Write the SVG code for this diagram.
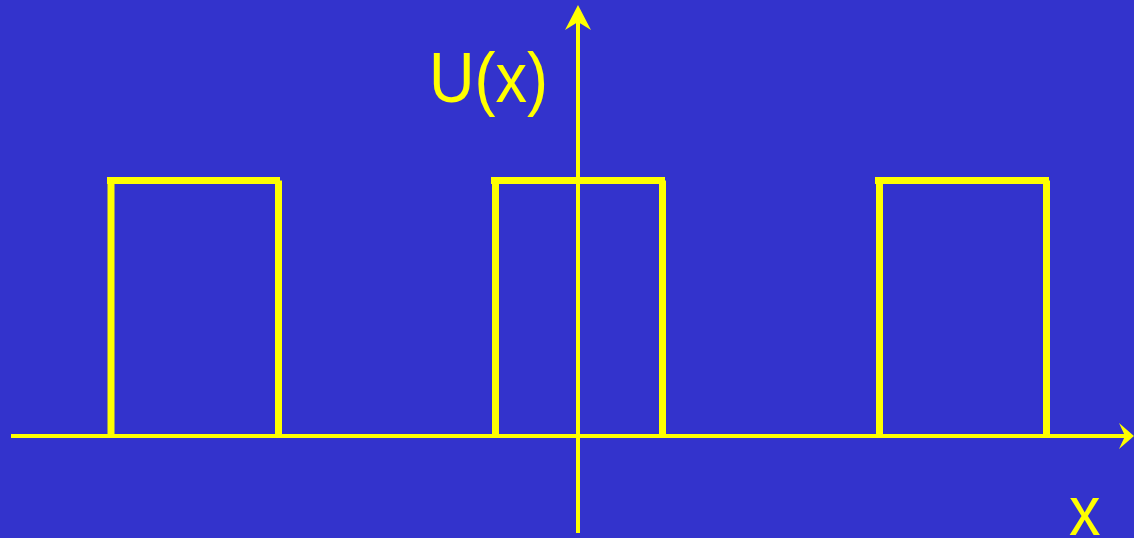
<svg xmlns="http://www.w3.org/2000/svg" width="1134" height="538" viewBox="0 0 1134 538">
  <style>
    .bar { stroke: #FFFF00; stroke-width: 7; fill: none; }
    .axis { stroke: #FFFF00; stroke-width: 4; fill: none; }
    .head { fill: #FFFF00; stroke: none; }
    .lbl { font-family: "Liberation Sans", Arial, Helvetica, sans-serif; font-size: 70px; fill: #FFFF00; }
  </style>
  <rect x="0" y="0" width="1134" height="538" fill="#3333CC"/>
  <g id="connectors">
    <line class="axis" x1="11" y1="436" x2="1126" y2="436"/>
    <polygon class="head" points="1134,436 1119,423 1125,436 1119,449"/>
    <line class="axis" x1="578" y1="533" x2="578" y2="16"/>
    <polygon class="head" points="578,5 591,30 578,22 565,30"/>
  </g>
  <g id="barrier-left">
    <line class="bar" x1="107" y1="180.5" x2="280" y2="180.5"/>
    <line class="bar" x1="111" y1="180.5" x2="111" y2="436"/>
    <line class="bar" x1="278.5" y1="180.5" x2="278.5" y2="436"/>
  </g>
  <g id="barrier-middle">
    <line class="bar" x1="491" y1="180.5" x2="665" y2="180.5"/>
    <line class="bar" x1="495.5" y1="180.5" x2="495.5" y2="436"/>
    <line class="bar" x1="662.5" y1="180.5" x2="662.5" y2="436"/>
  </g>
  <g id="barrier-right">
    <line class="bar" x1="875" y1="180.5" x2="1049" y2="180.5"/>
    <line class="bar" x1="879.5" y1="180.5" x2="879.5" y2="436"/>
    <line class="bar" x1="1046.5" y1="180.5" x2="1046.5" y2="436"/>
  </g>
  <g id="label-u">
    <text class="lbl" x="429" y="102" textLength="119" lengthAdjust="spacingAndGlyphs">U(x)</text>
  </g>
  <g id="label-x">
    <text class="lbl" x="1069" y="535" textLength="31.5" lengthAdjust="spacingAndGlyphs">x</text>
  </g>
</svg>
